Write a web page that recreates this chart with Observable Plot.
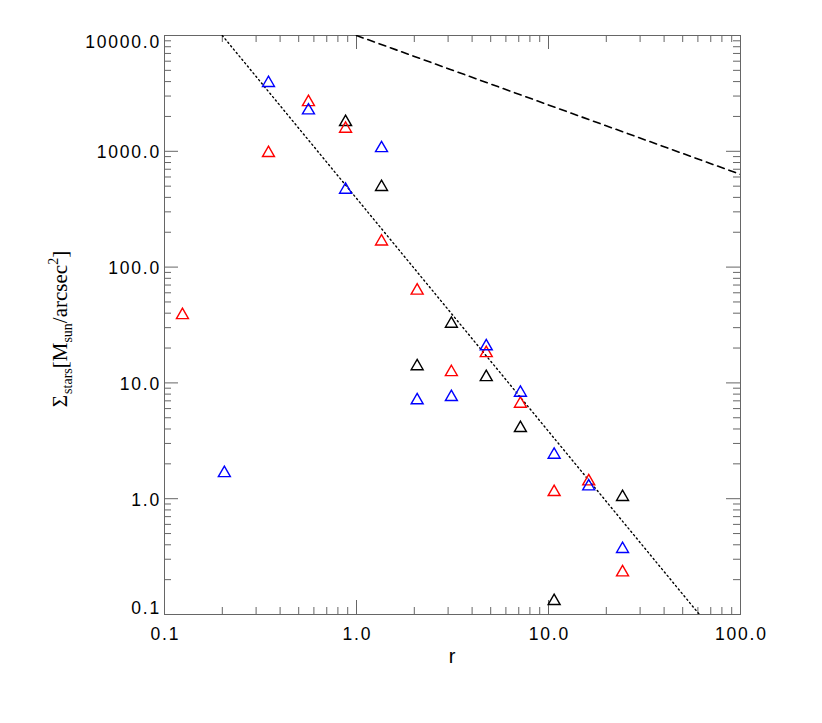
<!DOCTYPE html>
<html><head><meta charset="utf-8">
<script src="https://cdn.jsdelivr.net/npm/d3@7"></script>
<script src="https://cdn.jsdelivr.net/npm/@observablehq/plot@0.6"></script>
<style>body{margin:0;background:#fff}</style>
</head><body><div id="chart"></div>
<script>
// data
const redR = [0.124, 0.348, 0.562, 0.877, 1.35, 2.07, 3.12, 4.74, 7.14, 10.7, 16.2, 24.3];
const redV = [39.8, 998, 2750, 1620, 172, 64.8, 12.8, 18.7, 6.83, 1.18, 1.46, 0.239];
const blueR = [0.205, 0.348, 0.562, 0.877, 1.35, 2.07, 3.12, 4.74, 7.14, 10.7, 16.2, 24.3];
const blueV = [1.72, 4020, 2330, 481, 1100, 7.31, 7.80, 21.4, 8.50, 2.48, 1.32, 0.380];
const blackR = [0.877, 1.35, 2.07, 3.12, 4.74, 7.14, 10.7, 24.3];
const blackV = [1849, 508, 14.4, 33.5, 11.6, 4.21, 0.135, 1.07];
const dottedR = [0.2, 61.1];
const dottedV = [10000, 0.1];
const dashedR = [1.0, 100];
const dashedV = [10000, 632];
const xMajor = [0.1, 1, 10, 100];
const yMajor = [0.1, 1, 10, 100, 1000, 10000];
const xDecades = [-1, 0, 1];
const yDecades = [-1, 0, 1, 2, 3];
const minorK = [2, 3, 4, 5, 6, 7, 8, 9];

const toPts = (R, V) => R.map((r, i) => ({r, v: V[i]}));
const red = toPts(redR, redV), blue = toPts(blueR, blueV), black = toPts(blackR, blackV);
const dotted = toPts(dottedR, dottedV), dashed = toPts(dashedR, dashedV);
const xMinor = xDecades.flatMap(d => minorK.map(k => k * 10 ** d));
const yMinor = yDecades.flatMap(d => minorK.map(k => k * 10 ** d));
const fmt = d3.format(".1f");

const W = 822, H = 723, mL = 164, mR = 82, mT = 35, mB = 109;
const fw = W - mL - mR, fh = H - mT - mB;
const axisCol = "#666";
const maj = 14, mnr = 7;
const lab = {fontFamily: "Liberation Sans", fontSize: 17.5, fill: "black"};

const tri = (data, color) => Plot.dot(data, {x: "r", y: "v", symbol: "triangle", r: 4.45, stroke: color, fill: "none", strokeWidth: 1.4, dy: 1.7});

const svg = Plot.plot({
  width: W, height: H,
  marginLeft: mL, marginRight: mR, marginTop: mT, marginBottom: mB,
  x: {type: "log", domain: [0.1, 100], axis: null},
  y: {type: "log", domain: [0.1, 10000], axis: null},
  style: {background: "white"},
  marks: [
    Plot.tickX(xMajor, {x: d => d, stroke: axisCol, insetTop: fh - maj}),
    Plot.tickX(xMinor, {x: d => d, stroke: axisCol, insetTop: fh - mnr}),
    Plot.tickX(xMajor, {x: d => d, stroke: axisCol, insetBottom: fh - maj}),
    Plot.tickX(xMinor, {x: d => d, stroke: axisCol, insetBottom: fh - mnr}),
    Plot.tickY(yMajor, {y: d => d, stroke: axisCol, insetRight: fw - maj}),
    Plot.tickY(yMinor, {y: d => d, stroke: axisCol, insetRight: fw - mnr}),
    Plot.tickY(yMajor, {y: d => d, stroke: axisCol, insetLeft: fw - maj}),
    Plot.tickY(yMinor, {y: d => d, stroke: axisCol, insetLeft: fw - mnr}),
    Plot.frame({stroke: axisCol}),
    Plot.text(xMajor, {x: d => d, frameAnchor: "bottom", text: d => fmt(d), dy: 19.5, dx: 0.9, lineAnchor: "middle", textAnchor: "middle", ...lab}),
    Plot.text(yMajor.slice(1, -1), {y: d => d, frameAnchor: "left", text: d => fmt(d), dx: -3.5, dy: 1.4, lineAnchor: "middle", textAnchor: "end", ...lab}),
    Plot.text(yMajor.slice(-1), {y: d => d, frameAnchor: "left", text: d => fmt(d), dx: -3.5, dy: 7, lineAnchor: "middle", textAnchor: "end", ...lab}),
    Plot.text(yMajor.slice(0, 1), {y: d => d, frameAnchor: "left", text: d => fmt(d), dx: -3.5, dy: -6, lineAnchor: "middle", textAnchor: "end", ...lab}),
    Plot.line(dotted, {x: "r", y: "v", stroke: "black", strokeWidth: 1.4, strokeDasharray: "1.3,3.1", clip: true}),
    Plot.line(dashed, {x: "r", y: "v", stroke: "black", strokeWidth: 1.6, strokeDasharray: "7,5", clip: true}),
    tri(black, "black"),
    tri(red, "#ff0000"),
    tri(blue, "#0000ff")
  ]
});

const s = d3.select(svg);
s.selectAll('g[aria-label="text"] text').style("letter-spacing", "1.8px");

s.append("text").attr("x", mL + fw / 2).attr("y", 663)
  .attr("text-anchor", "middle").style("font-family", "Liberation Sans").style("font-size", "20px").text("r");

const yt = s.append("text").attr("transform", "translate(66.7,329) rotate(-90)")
  .attr("text-anchor", "middle").style("font-family", "Liberation Serif").style("font-size", "21px").attr("fill", "black");
yt.append("tspan").text("Σ");
yt.append("tspan").attr("dy", 5).attr("dx", 1).style("font-size", "14px").text("stars");
yt.append("tspan").attr("dy", -5).text("[M");
yt.append("tspan").attr("dy", 5).style("font-size", "14px").text("sun");
yt.append("tspan").attr("dy", -5).text("/arcsec");
yt.append("tspan").attr("dy", -9).style("font-size", "14px").text("2");
yt.append("tspan").attr("dy", 9).text("]");

document.getElementById("chart").appendChild(svg);
</script>
</body></html>
